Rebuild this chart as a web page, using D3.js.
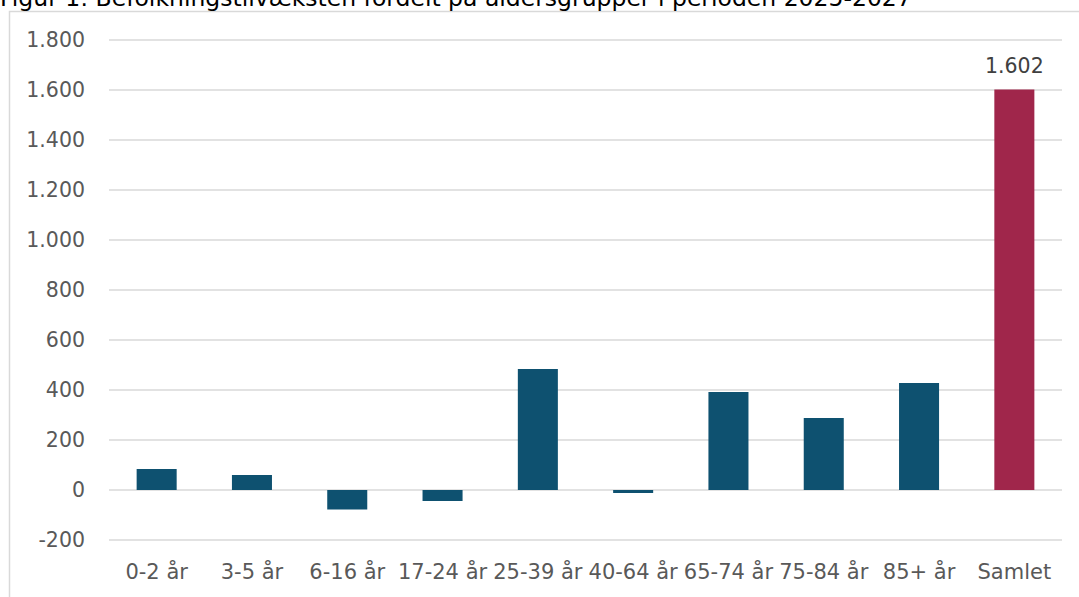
<!DOCTYPE html>
<html>
<head>
<meta charset="utf-8">
<script src="https://cdn.jsdelivr.net/npm/d3@7"></script>
<style>
  html, body { margin: 0; padding: 0; background: #fff; overflow: hidden; }
  svg { display: block; }
</style>
</head>
<body>
<svg id="chart" width="1079" height="597"></svg>
<script>
const categories = ["0-2 år", "3-5 år", "6-16 år", "17-24 år", "25-39 år", "40-64 år", "65-74 år", "75-84 år", "85+ år", "Samlet"];
const values = [84, 60, -78, -44, 484, -12, 392, 288, 428, 1602];
const yTicks = [-200, 0, 200, 400, 600, 800, 1000, 1200, 1400, 1600, 1800];
const title = "Figur 1: Befolkningstilvæksten fordelt på aldersgrupper i perioden 2025-2027";

const svg = d3.select("#chart");
const font = "'DejaVu Sans', Verdana, sans-serif";
const fmt = v => d3.format(",")(v).replace(/,/g, ".").replace("\u2212", "-");

// frame
svg.append("path")
  .attr("d", "M9.5,597 L9.5,11.5 L1079,11.5")
  .attr("fill", "none").attr("stroke", "#d9d9d9").attr("stroke-width", 1.5);

// title (partly cut at top like the reference)
svg.append("text").attr("x", 0).attr("y", 6)
  .attr("font-family", font).attr("font-size", 23.5).attr("fill", "#000")
  .text(title);

const x = d3.scaleBand().domain(categories).range([109, 1062]).paddingInner(0.58).paddingOuter(0.29);
const y = d3.scaleLinear().domain([-200, 1800]).range([540, 40]);

// gridlines
svg.append("g").selectAll("line").data(yTicks).join("line")
  .attr("x1", 109).attr("x2", 1062)
  .attr("y1", d => y(d)).attr("y2", d => y(d))
  .attr("stroke", "#d9d9d9").attr("stroke-width", 1.5);

// y axis
const yAxis = svg.append("g").attr("transform", "translate(85,0)")
  .call(d3.axisLeft(y).tickValues(yTicks).tickFormat(fmt).tickSize(0).tickPadding(0));
yAxis.select(".domain").remove();
yAxis.selectAll("text").attr("font-family", font).attr("font-size", 20.5).attr("fill", "#595959");

// bars
svg.append("g").selectAll("rect").data(values).join("rect")
  .attr("x", (d, i) => x(categories[i]))
  .attr("width", x.bandwidth())
  .attr("y", d => y(Math.max(0, d)))
  .attr("height", d => Math.abs(y(d) - y(0)))
  .attr("fill", (d, i) => categories[i] === "Samlet" ? "#A0264B" : "#0E5170");

// data label for total
const last = categories.length - 1;
svg.append("text")
  .attr("x", x(categories[last]) + x.bandwidth() / 2)
  .attr("y", y(values[last]) - 17)
  .attr("text-anchor", "middle")
  .attr("font-family", font).attr("font-size", 20.5).attr("fill", "#404040")
  .text(fmt(values[last]));

// x axis
const xAxis = svg.append("g").attr("transform", "translate(0,564)")
  .call(d3.axisBottom(x).tickSize(0).tickPadding(0));
xAxis.select(".domain").remove();
xAxis.selectAll("text").attr("font-family", font).attr("font-size", 21).attr("fill", "#595959")
  .attr("dy", "0.71em");
</script>
</body>
</html>
